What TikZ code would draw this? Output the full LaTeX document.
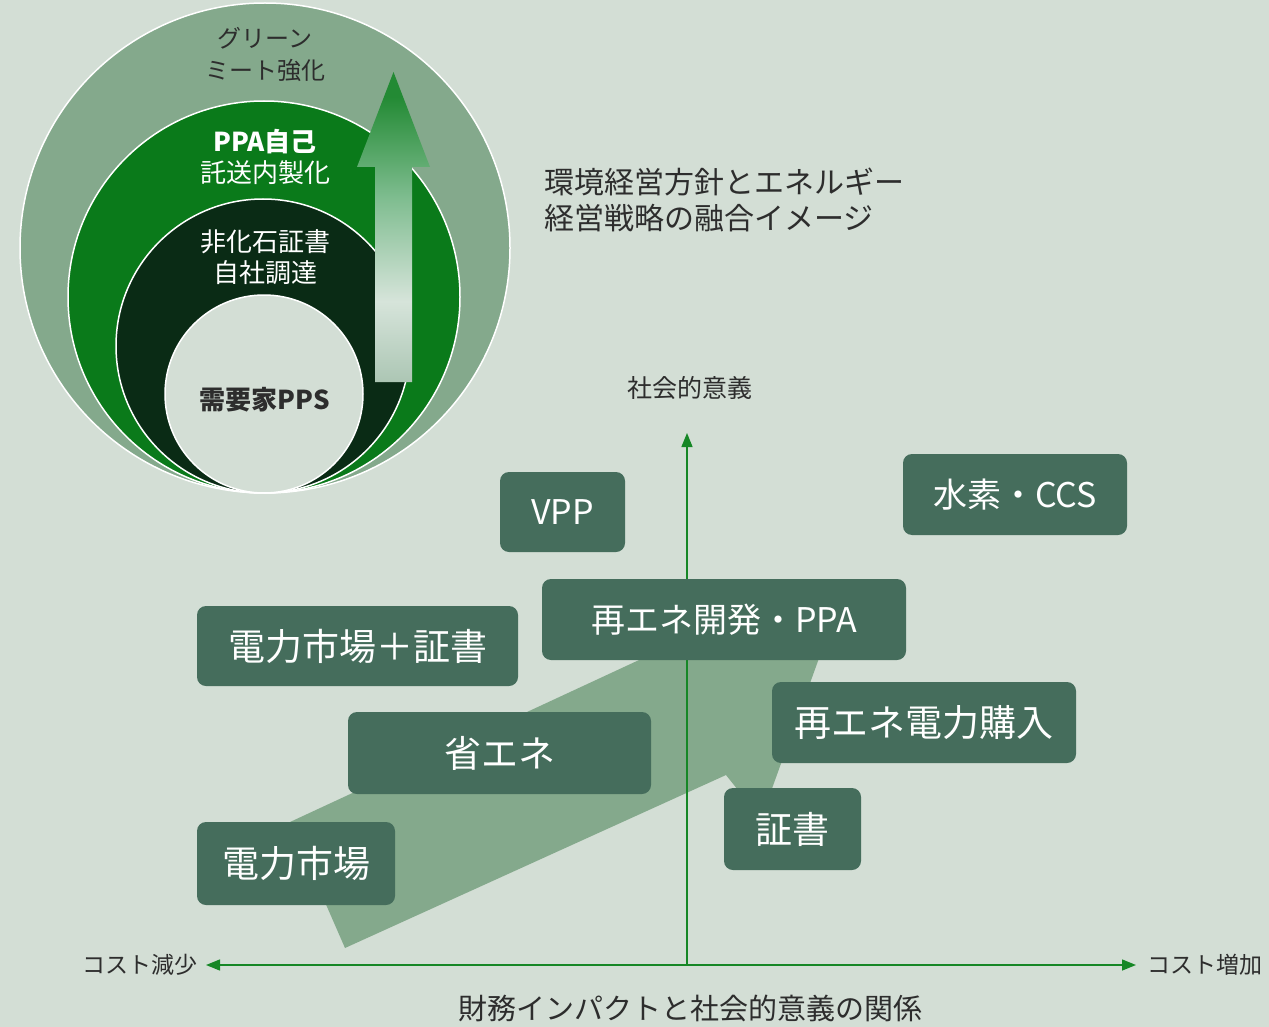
\documentclass[tikz,border=0pt]{standalone}
\usepackage{fontspec}
\setmainfont{Noto Sans CJK JP}
\usetikzlibrary{arrows.meta, positioning}

\definecolor{bgcol}{RGB}{211,222,213}
\definecolor{sage}{RGB}{132,169,140}
\definecolor{leaf}{RGB}{10,122,26}
\definecolor{forest}{RGB}{10,43,21}
\definecolor{boxcol}{RGB}{69,109,92}
\definecolor{axiscol}{RGB}{22,135,38}
\definecolor{inkcol}{RGB}{45,45,45}
\definecolor{fadetop}{RGB}{35,138,52}
\definecolor{fademid}{RGB}{125,188,142}
\definecolor{fadelight}{RGB}{214,228,218}
\definecolor{fadebot}{RGB}{172,198,180}
\pgfdeclareverticalshading{upfade}{100bp}{color(0bp)=(fadebot); color(25bp)=(fadebot); color(38bp)=(fadelight); color(55bp)=(fademid); color(71bp)=(fadetop); color(100bp)=(fadetop)}

\newcommand{\fsz}[2]{\fontsize{#1}{#2}\selectfont}

\tikzset{
  item/.style={fill=boxcol, rounded corners=9pt, text=white, inner sep=0pt, font=\fsz{34}{40}},
  bigitem/.style={item, font=\fsz{37}{42}},
  ring/.style={draw=white, line width=1.5pt},
  ringtext/.style={align=center, font=\fsz{26}{31}},
  axisline/.style={draw=axiscol, line width=1.4pt},
  axislabel/.style={text=inkcol, inner sep=0pt, font=\fsz{23}{28}},
  tip/.tip={Triangle[length=14pt,width=11pt]}
}

\begin{document}
\begin{tikzpicture}[x=1pt,y=-1pt]
\fill[bgcol] (0,0) rectangle (1269,1027);
\useasboundingbox (0,0) rectangle (1269,1027);

% rings
\draw[ring, fill=sage] (265,248) circle (245pt);
\draw[ring, fill=leaf] (264,297) circle (196pt);
\draw[ring, fill=forest] (263,346) circle (147pt);
\draw[ring, fill=bgcol] (264,394) circle (99pt);

\shade[shading=upfade] (375,382) -- (375,167) -- (357,167) -- (393.5,72) -- (430,167) -- (412,167) -- (412,382) -- cycle;

\node[ringtext, text=inkcol, font=\fsz{24}{32}] (green) at (265,54) {グリーン\\ミート強化};
\node[ringtext, text=white] (selfppa) at (265,157) {\bfseries PPA自己\\託送内製化};
\node[ringtext, text=white] (nonfossil) at (265,257) {非化石証書\\自社調達};
\node[ringtext, text=inkcol] (pps) at (265,400) {\bfseries 需要家PPS};

\node[anchor=west, align=left, text=inkcol, font=\fsz{30}{36}] (title) at (541,200) {環境経営方針とエネルギー\\経営戦略の融合イメージ};

% big arrow
\fill[sage] (345,948) -- (290,822) -- (680,641) -- (650,600) -- (840,600) -- (761,819) -- (726,775) -- cycle;

% axes
\coordinate (ybot) at (687,965);
\coordinate (ytop) at (687,433);
\coordinate (xleft) at (206,965);
\coordinate (xright) at (1136,965);
\draw[axisline, -tip] (ybot) -- (ytop);
\draw[axisline, tip-tip] (xleft) -- (xright);

\node[axislabel, left=8pt of xleft] (costdown) {コスト減少};
\node[axislabel, right=11pt of xright] (costup) {コスト増加};
\node[axislabel, font=\fsz{25}{30}] (social) at (690,388) {社会的意義};
\node[text=inkcol, font=\fsz{29}{34}] (relation) at (690,1008) {財務インパクトと社会的意義の関係};

% items
\node[item, minimum width=125pt, minimum height=80pt] (vpp) at (562.5,512) {VPP};
\node[item, minimum width=224pt, minimum height=81pt] (hydrogen) at (1015,494.5) {水素・CCS};
\node[item, minimum width=364pt, minimum height=81pt] (redev) at (724,619.5) {再エネ開発・PPA};
\node[bigitem, minimum width=321pt, minimum height=80pt] (mktcert) at (357.5,646) {電力市場＋証書};
\node[bigitem, minimum width=303pt, minimum height=82pt] (saving) at (499.5,753) {省エネ};
\node[bigitem, minimum width=304pt, minimum height=81pt] (rebuy) at (924,722.5) {再エネ電力購入};
\node[bigitem, minimum width=137pt, minimum height=82pt] (cert) at (792.5,829) {証書};
\node[bigitem, minimum width=198pt, minimum height=83pt] (mkt) at (296,863.5) {電力市場};

\end{tikzpicture}
\end{document}
